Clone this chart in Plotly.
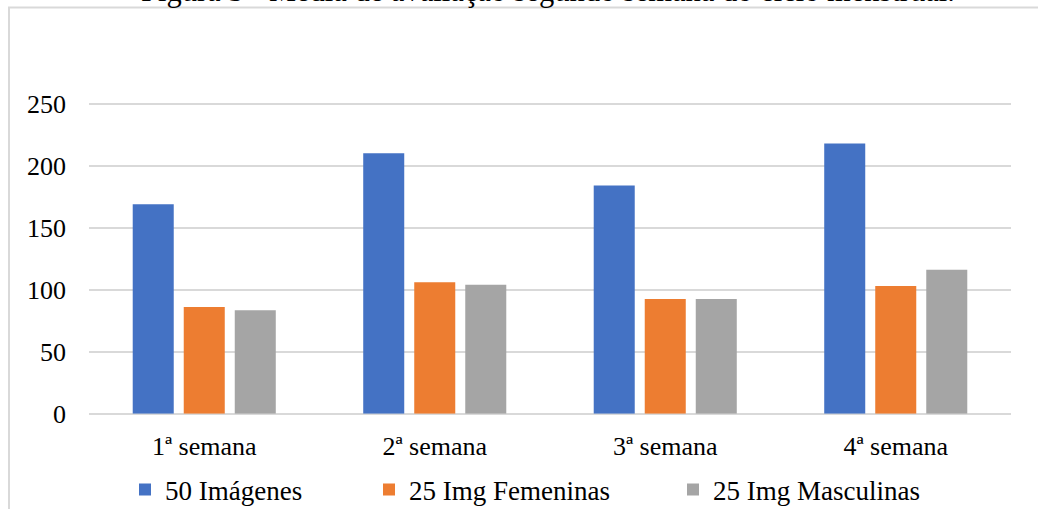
import plotly.graph_objects as go

W, H = 1038, 509

categories = ["1ª semana", "2ª semana", "3ª semana", "4ª semana"]
series_names = ["50 Imágenes", "25 Img Femeninas", "25 Img Masculinas"]
vals_50 = [169, 210, 184, 218]
vals_fem = [86, 106, 92.5, 103]
vals_masc = [83.5, 104, 92.5, 116]
colors = ["#4472C4", "#ED7D31", "#A5A5A5"]
y_ticks = [0, 50, 100, 150, 200, 250]
title_text = "Figura 5 - Média de avaliação segundo semana do ciclo menstrual."

FONT = "Liberation Serif"
TXT = dict(family=FONT, size=26, color="#000000")
LEGTXT = dict(family=FONT, size=27, color="#000000")

# pixel geometry
plot_left, plot_right = 89, 1011
y0_px, px_per_unit = 413.7, 1.24
ymax = 255
y_top_px = y0_px - ymax * px_per_unit

fig = go.Figure()
legend_keys = ["legend", "legend2", "legend3"]
for name, vals, col, lk in zip(series_names, [vals_50, vals_fem, vals_masc], colors, legend_keys):
    fig.add_trace(go.Bar(x=categories, y=vals, name=name, marker=dict(color=col, line=dict(width=0)),
                         legend=lk, showlegend=True))

legend_px = [125, 369, 673]


def leg(xpx):
    return dict(orientation="h", yanchor="middle", y=1 - 490 / H, xanchor="left", x=xpx / W,
                font=dict(LEGTXT), bgcolor="rgba(0,0,0,0)", visible=True)


fig.update_layout(
    template="none",
    width=W, height=H,
    showlegend=True,
    margin=dict(l=0, r=0, t=0, b=0, pad=0, autoexpand=False),
    paper_bgcolor="white", plot_bgcolor="white",
    barmode="group", bargap=0.336, bargroupgap=0.196,
    font=dict(TXT),
    legend=leg(legend_px[0]),
    legend2=leg(legend_px[1]),
    legend3=leg(legend_px[2]),
    xaxis=dict(domain=[plot_left / W, plot_right / W], showgrid=False, showline=False,
               zeroline=False, ticks="", ticklabelstandoff=14, tickfont=dict(TXT)),
    yaxis=dict(domain=[1 - y0_px / H, 1 - y_top_px / H], range=[0, ymax], tickvals=y_ticks,
               showgrid=True, gridcolor="#D9D9D9", gridwidth=1.6,
               zeroline=True, zerolinecolor="#D9D9D9", zerolinewidth=1.6,
               showline=False, ticks="", ticklabelstandoff=22, tickfont=dict(TXT)),
    shapes=[dict(type="rect", xref="paper", yref="paper", x0=9 / W, x1=1.2,
                 y0=-0.2, y1=1 - 7.5 / H, line=dict(color="#D9D9D9", width=2), layer="below")],
    annotations=[dict(text=title_text, xref="paper", yref="paper", x=548 / W, y=1 - 10 / H,
                      xanchor="center", yanchor="bottom", showarrow=False,
                      font=dict(family=FONT, size=30.5, color="#000000"))],
)
for lk in legend_keys:
    fig.layout[lk].font = dict(LEGTXT)

fig.write_html("out.html", config={"displayModeBar": False},
               post_script="document.body.style.margin='0';document.body.style.overflow='hidden';")
